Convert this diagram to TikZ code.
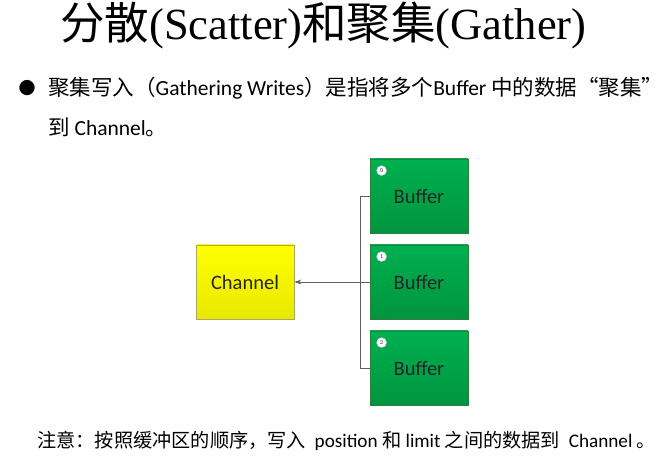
\documentclass[tikz,border=0pt]{standalone}
\usepackage{fontspec}
\usetikzlibrary{arrows.meta}
\setmainfont{Carlito}
\newfontfamily\cjk{Noto Sans CJK SC}
\newfontfamily\titlelat{Liberation Serif}
\newcommand{\zh}[1]{{\cjk #1}}
\definecolor{bufgreen}{HTML}{00B050}
\definecolor{bufdark}{HTML}{00953F}
\definecolor{bufedge}{HTML}{2E7D3E}
\definecolor{chyellow}{HTML}{FFFF00}
\definecolor{chdark}{HTML}{E8E800}
\definecolor{chedge}{HTML}{A8A860}
\definecolor{wire}{HTML}{606060}
\begin{document}
\begin{tikzpicture}[x=1bp,y=-1bp,
  bufbox/.style={draw=bufedge,line width=0.8bp,top color=bufgreen,bottom color=bufdark,
    minimum width=98bp,minimum height=74bp,inner sep=0pt,font=\fontsize{20.5bp}{24bp}\selectfont,text=black!85},
  chbox/.style={draw=chedge,line width=0.8bp,top color=chyellow,bottom color=chdark,
    minimum width=98bp,minimum height=74bp,inner sep=0pt,font=\fontsize{20.5bp}{24bp}\selectfont,text=black!85},
  numdot/.style={circle,fill=white,draw=black!25,line width=0.4bp,inner sep=0pt,minimum size=10bp,
    font=\fontsize{6bp}{6bp}\selectfont,text=black!80},
  wireline/.style={draw=wire,line width=0.8bp},
  bodytext/.style={anchor=west,inner sep=0pt,font=\fontsize{21.5bp}{25bp}\selectfont,text=black},
]
\useasboundingbox (0,0) rectangle (669,469);
% title
\node[anchor=west,inner sep=0pt,font=\fontsize{44.5bp}{48bp}\selectfont] (title) at (60,25)
  {\zh{分散}{\titlelat(Scatter)}\zh{和聚集}{\titlelat(Gather)}};
% bullet lines
\node[anchor=center,inner sep=0pt,font=\fontsize{17bp}{17bp}\selectfont] (bul) at (27,88) {\zh{●}};
\node[bodytext] (l1) at (48,88)
  {\zh{聚集写入（}Gathering Writes\zh{）是指将多个}Buffer \zh{中的数据“聚集”}};
\node[bodytext] (l2) at (48,127) {\zh{到} Channel\zh{。}};
% boxes
\node[chbox] (ch) at (245,282) {Channel};
\node[bufbox] (b0) at (419,196) {Buffer};
\node[bufbox] (b1) at (419,282) {Buffer};
\node[bufbox] (b2) at (419,368) {Buffer};
\node[numdot] (n0) at ([xshift=12bp,yshift=-12bp]b0.north west) {0};
\node[numdot] (n1) at ([xshift=12bp,yshift=-12bp]b1.north west) {1};
\node[numdot] (n2) at ([xshift=12bp,yshift=-12bp]b2.north west) {2};
% connectors
\coordinate (j0) at (360,196);
\coordinate (j2) at (360,368);
\draw[wireline] (b0.west) -- (j0) -- (j2) -- (b2.west);
\draw[wireline,-{Stealth[length=7bp,width=5bp]}] (b1.west) -- (ch.east);
% footer
\node[anchor=west,inner sep=0pt,font=\fontsize{19.2bp}{22bp}\selectfont,text=black] (note) at (37,441)
  {\zh{注意：按照缓冲区的顺序，写入}\ \ position \zh{和} limit \zh{之间的数据到}\ \ Channel \zh{。}};
\end{tikzpicture}
\end{document}
